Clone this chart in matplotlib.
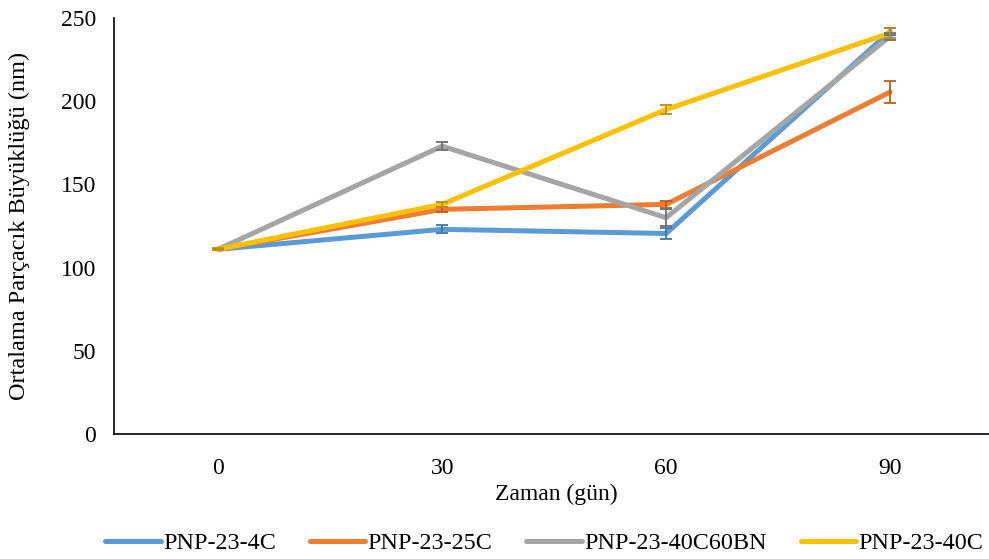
import numpy as np
import matplotlib.pyplot as plt

plt.rcParams['font.family'] = ['Liberation Serif', 'DejaVu Serif']

# data
days = ['0', '30', '60', '90']
names = ['PNP-23-4C', 'PNP-23-25C', 'PNP-23-40C60BN', 'PNP-23-40C']
size_4c = [111, 123, 120.5, 242]
size_25c = [111, 135, 138, 205.5]
size_40c60bn = [111, 173, 130, 239]
size_40c = [111, 138, 195, 241]
err_4c = [0, 2.5, 3.5, 2]
err_25c = [0, 1.5, 2, 6.5]
err_40c60bn = [0, 2.5, 5, 2]
err_40c = [0.5, 1.5, 2.5, 3]

colors = ['#5B9BD5', '#ED7D31', '#A5A5A5', '#FFC000']
err_colors = ['#3E75AE', '#C55A11', '#6E6E6E', '#BF9000']

fig = plt.figure(figsize=(9.89, 5.59), dpi=100)
ax = fig.add_axes([114/989, 1-434/559, 896/989, 416/559])

x = np.arange(len(days))
series = [size_4c, size_25c, size_40c60bn, size_40c]
errs = [err_4c, err_25c, err_40c60bn, err_40c]
for s, e, c, ec, n in zip(series, errs, colors, err_colors, names):
    ax.plot(x, s, color=c, lw=3.6, label=n, solid_capstyle='round', zorder=2)
    ax.errorbar(x, s, yerr=e, fmt='none', ecolor=ec, elinewidth=1.3,
                capsize=4.5, capthick=1.3, zorder=3)

ax.set_xlim(-0.465, 3.535)
ax.set_ylim(0, 250)
ax.set_yticks([0, 50, 100, 150, 200, 250])
ax.set_xticks(x)
ax.set_xticklabels(days)
ax.tick_params(length=0, labelsize=17)
ax.tick_params(axis='x', pad=17)
ax.tick_params(axis='y', pad=13)
for sp in ['top', 'right']:
    ax.spines[sp].set_visible(False)
ax.spines['left'].set_linewidth(1.2)
ax.spines['bottom'].set_linewidth(1.2)

fig.text(556/989, 1-494/559, 'Zaman (gün)', ha='center', va='center', fontsize=17)
fig.text(19/989, 1-226/559, 'Ortalama Parçacık Büyüklüğü (nm)', ha='center', va='center',
         rotation=90, fontsize=17.5)

fig.legend(loc='center left', bbox_to_anchor=(105/989, 1-543/559), ncol=4, frameon=False,
           fontsize=17.4, handlelength=2.3, handletextpad=0.1, columnspacing=1.4,
           borderaxespad=0, borderpad=0)

fig.savefig('out.png', dpi=100)
